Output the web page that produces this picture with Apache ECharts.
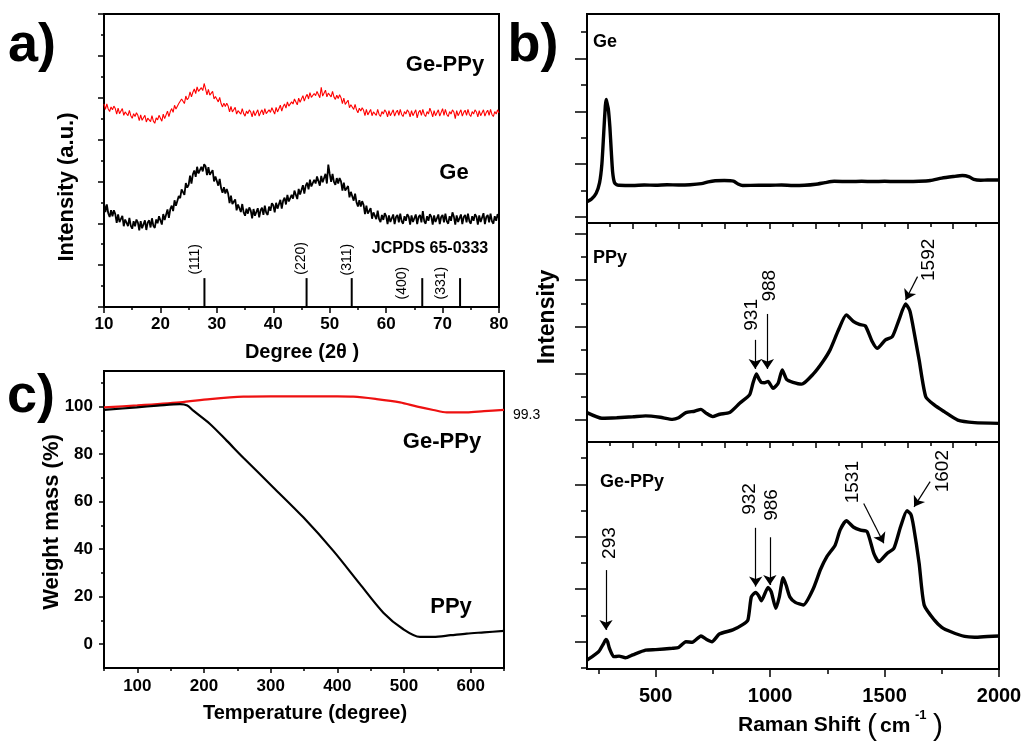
<!DOCTYPE html>
<html>
<head>
<meta charset="utf-8">
<title>Ge-PPy XRD / Raman / TGA</title>
<script src="https://cdn.jsdelivr.net/npm/echarts@6/dist/echarts.min.js"></script>
<style>
  html, body { margin: 0; padding: 0; background: #fff; }
  #chart { width: 1025px; height: 748px; }
</style>
</head>
<body>
<div id="chart"></div>
<script>
// ---- a) XRD, 10..80 deg, one reading every 0.25 deg (one row = one degree) ----
const xrdStart = 10
const xrdStep = 0.25
const xrdGePPy = [
  4.85, 4.72, 4.85, 4.73,  4.67, 4.78, 4.71, 4.80,  4.74, 4.61, 4.75, 4.62,  4.63, 4.74, 4.58, 4.66,
  4.70, 4.57, 4.70, 4.57,  4.51, 4.62, 4.55, 4.64,  4.58, 4.45, 4.59, 4.46,  4.47, 4.58, 4.42, 4.51,
  4.55, 4.43, 4.57, 4.44,  4.39, 4.52, 4.47, 4.58,  4.54, 4.44, 4.61, 4.50,  4.54, 4.68, 4.55, 4.67,
  4.74, 4.65, 4.82, 4.73,  4.71, 4.86, 4.83, 4.97,  4.95, 4.86, 5.04, 4.95,  5.00, 5.14, 5.02, 5.13,
  5.21, 5.10, 5.26, 5.15,  5.12, 5.24, 5.17, 5.34,  5.21, 5.07, 5.20, 5.06,  5.06, 5.15, 4.97, 5.03,
  5.05, 4.90, 5.01, 4.86,  4.78, 4.87, 4.79, 4.87,  4.80, 4.66, 4.79, 4.66,  4.66, 4.77, 4.61, 4.69,
  4.73, 4.61, 4.74, 4.62,  4.56, 4.68, 4.62, 4.71,  4.66, 4.54, 4.69, 4.57,  4.59, 4.71, 4.56, 4.65,
  4.71, 4.59, 4.74, 4.62,  4.58, 4.71, 4.65, 4.76,  4.72, 4.61, 4.77, 4.66,  4.69, 4.82, 4.68, 4.79,
  4.85, 4.75, 4.90, 4.80,  4.76, 4.90, 4.85, 4.97,  4.93, 4.83, 4.99, 4.89,  4.92, 5.05, 4.92, 5.02,
  5.08, 4.97, 5.12, 5.01,  4.97, 5.10, 5.05, 5.15,  5.11, 5.00, 5.25, 5.04,  5.06, 5.18, 5.02, 5.11,
  5.15, 5.02, 5.15, 5.02,  4.96, 5.06, 4.98, 5.07,  5.00, 4.86, 4.99, 4.84,  4.84, 4.94, 4.76, 4.83,
  4.86, 4.72, 4.84, 4.71,  4.64, 4.75, 4.68, 4.76,  4.70, 4.57, 4.72, 4.59,  4.60, 4.72, 4.57, 4.66,
  4.70, 4.58, 4.72, 4.60,  4.55, 4.67, 4.61, 4.71,  4.66, 4.54, 4.69, 4.57,  4.59, 4.71, 4.56, 4.65,
  4.70, 4.58, 4.72, 4.60,  4.55, 4.67, 4.61, 4.71,  4.66, 4.54, 4.69, 4.57,  4.59, 4.71, 4.52, 4.65,
  4.70, 4.58, 4.72, 4.60,  4.55, 4.67, 4.61, 4.75,  4.66, 4.54, 4.69, 4.57,  4.59, 4.71, 4.56, 4.65,
  4.74, 4.58, 4.72, 4.60,  4.55, 4.67, 4.61, 4.71,  4.66, 4.50, 4.69, 4.57,  4.59, 4.71, 4.56, 4.65,
  4.70, 4.58, 4.72, 4.60,  4.55, 4.67, 4.61, 4.71,  4.66, 4.54, 4.69, 4.57,  4.59, 4.71, 4.56, 4.65,
  4.70, 4.58, 4.72, 4.60,  4.55, 4.67, 4.61, 4.71,
  4.64
]
const xrdGe = [
  2.48, 2.27, 2.45, 2.24,  2.15, 2.31, 2.17, 2.31,  2.22, 2.01, 2.21, 2.03,  2.02, 2.18, 1.93, 2.09,
  2.12, 1.93, 2.13, 1.94,  1.87, 2.05, 1.93, 2.09,  2.02, 1.83, 2.05, 1.88,  1.89, 2.07, 1.84, 2.02,
  2.07, 1.90, 2.12, 1.94,  1.89, 2.09, 2.00, 2.17,  2.13, 1.97, 2.22, 2.08,  2.12, 2.33, 2.13, 2.34,
  2.42, 2.29, 2.55, 2.42,  2.41, 2.65, 2.60, 2.81,  2.81, 2.68, 2.96, 2.85,  2.92, 3.14, 2.95, 3.17,
  3.26, 3.11, 3.35, 3.19,  3.16, 3.35, 3.24, 3.41,  3.36, 3.15, 3.34, 3.16,  3.14, 3.27, 3.00, 3.12,
  3.13, 2.90, 3.06, 2.84,  2.73, 2.86, 2.71, 2.82,  2.71, 2.48, 2.66, 2.46,  2.43, 2.57, 2.31, 2.45,
  2.47, 2.27, 2.46, 2.26,  2.18, 2.35, 2.23, 2.38,  2.31, 2.12, 2.34, 2.18,  2.19, 2.36, 2.14, 2.31,
  2.37, 2.20, 2.42, 2.25,  2.20, 2.40, 2.30, 2.48,  2.43, 2.26, 2.49, 2.35,  2.37, 2.56, 2.35, 2.54,
  2.61, 2.45, 2.68, 2.52,  2.48, 2.68, 2.59, 2.78,  2.74, 2.58, 2.82, 2.69,  2.72, 2.91, 2.71, 2.90,
  2.97, 2.81, 3.04, 2.88,  2.84, 3.04, 2.95, 3.12,  3.08, 2.90, 3.13, 2.98,  3.00, 3.18, 2.95, 3.40,
  3.18, 2.99, 3.18, 2.99,  2.92, 3.08, 2.95, 3.08,  3.00, 2.78, 2.97, 2.78,  2.76, 2.89, 2.62, 2.75,
  2.76, 2.54, 2.71, 2.50,  2.40, 2.55, 2.40, 2.53,  2.44, 2.22, 2.42, 2.23,  2.21, 2.36, 2.11, 2.26,
  2.29, 2.10, 2.30, 2.10,  2.03, 2.20, 2.08, 2.24,  2.17, 1.98, 2.19, 2.03,  2.04, 2.21, 1.98, 2.15,
  2.20, 2.02, 2.23, 2.05,  1.99, 2.17, 2.06, 2.22,  2.16, 1.97, 2.19, 2.03,  2.04, 2.21, 1.98, 2.15,
  2.20, 2.02, 2.29, 2.05,  1.99, 2.17, 2.06, 2.22,  2.16, 1.97, 2.19, 2.03,  2.04, 2.21, 1.98, 2.15,
  2.20, 2.02, 2.23, 2.05,  1.99, 2.17, 2.06, 2.26,  2.16, 1.97, 2.19, 2.03,  2.04, 2.21, 1.98, 2.15,
  2.20, 2.02, 2.23, 2.05,  1.99, 2.17, 2.06, 2.22,  2.16, 1.97, 2.19, 2.03,  2.04, 2.24, 1.98, 2.15,
  2.20, 2.02, 2.23, 2.05,  1.99, 2.17, 2.06, 2.22,
  2.12
]
const jcpdsPos = [27.8, 45.9, 53.9, 66.4, 73.1]
const jcpdsHeight = [0.69, 0.69, 0.69, 0.69, 0.69]
const jcpdsHkl = ['(111)', '(220)', '(311)', '(400)', '(331)']

// ---- b) Raman ----
const ramanGeShift = [200, 220, 240, 255, 265, 273, 280, 284, 288, 293, 300, 306, 312, 320, 330, 340, 400, 450, 500, 550, 600, 650, 700, 730, 760, 800, 840, 860, 880, 950, 1000, 1050, 1100, 1150, 1200, 1240, 1280, 1350, 1400, 1450, 1500, 1550, 1600, 1650, 1700, 1750, 1800, 1840, 1870, 1890, 1920, 1950, 2000]
const ramanGeInt = [0.58, 0.68, 0.90, 1.30, 2.00, 3.17, 4.20, 4.45, 4.30, 4.10, 3.40, 2.50, 1.70, 1.30, 1.22, 1.20, 1.19, 1.21, 1.20, 1.22, 1.21, 1.22, 1.26, 1.33, 1.37, 1.38, 1.36, 1.25, 1.19, 1.20, 1.20, 1.21, 1.19, 1.20, 1.24, 1.30, 1.35, 1.34, 1.35, 1.34, 1.35, 1.34, 1.34, 1.35, 1.38, 1.47, 1.53, 1.57, 1.52, 1.42, 1.39, 1.40, 1.40]

const ramanPPyShift = [200, 265, 330, 400, 456, 520, 573, 600, 632, 670, 698, 720, 749, 780, 823, 867, 910, 925, 940, 952, 962, 975, 991, 1013, 1035, 1053, 1072, 1100, 1138, 1189, 1230, 1262, 1299, 1333, 1365, 1390, 1416, 1446, 1468, 1504, 1534, 1563, 1592, 1610, 1622, 1651, 1680, 1717, 1761, 1820, 1893, 2000]
const ramanPPyInt = [0.32, 0.08, 0.10, 0.14, 0.18, 0.12, 0.03, 0.10, 0.32, 0.38, 0.46, 0.30, 0.15, 0.25, 0.32, 0.72, 1.08, 1.58, 1.98, 1.75, 1.61, 1.60, 1.66, 1.36, 1.58, 2.15, 1.75, 1.62, 1.54, 1.98, 2.50, 3.01, 3.87, 4.51, 4.22, 4.10, 4.04, 3.37, 3.08, 3.44, 3.58, 4.30, 4.98, 4.70, 4.15, 2.58, 1.00, 0.65, 0.36, 0.00, -0.11, -0.14]

const ramanGePPyShift = [200, 230, 251, 273, 283, 290, 298, 317, 340, 368, 400, 456, 500, 573, 600, 632, 660, 698, 720, 746, 778, 837, 880, 903, 918, 937, 950, 962, 991, 1005, 1025, 1040, 1057, 1070, 1086, 1110, 1145, 1189, 1220, 1248, 1284, 1306, 1333, 1365, 1395, 1424, 1453, 1475, 1512, 1541, 1570, 1598, 1615, 1627, 1651, 1673, 1717, 1750, 1790, 1850, 1893, 1950, 2000]
const ramanGePPyInt = [-0.70, -0.52, -0.38, -0.06, 0.09, 0.00, -0.25, -0.57, -0.55, -0.61, -0.50, -0.32, -0.30, -0.25, -0.22, 0.00, -0.02, 0.22, 0.10, 0.00, 0.29, 0.45, 0.65, 0.83, 1.71, 1.88, 1.75, 1.56, 2.07, 1.90, 1.27, 1.70, 2.44, 2.15, 1.71, 1.50, 1.40, 2.03, 2.75, 3.24, 3.68, 4.26, 4.61, 4.36, 4.25, 4.19, 3.37, 3.05, 3.37, 3.56, 4.38, 4.99, 4.85, 4.38, 2.99, 1.40, 0.83, 0.55, 0.38, 0.20, 0.17, 0.20, 0.22]

// ---- c) TGA ----
const tgaGePPyTemp = [50, 100, 164, 209, 259, 300, 350, 400, 424, 459, 494, 520, 544, 564, 594, 620, 650]
const tgaGePPyWeight = [99.7, 100.5, 101.8, 103.2, 104.2, 104.3, 104.3, 104.3, 104.2, 103.2, 101.8, 100.0, 98.6, 97.6, 97.6, 98.1, 98.6]
const tgaPPyTemp = [50, 99, 130, 164, 175, 184, 209, 234, 259, 304, 349, 394, 434, 469, 499, 524, 544, 570, 594, 620, 650]
const tgaPPyWeight = [98.6, 99.7, 100.4, 101.1, 100.5, 98.3, 92.7, 85.7, 78.5, 66.0, 53.4, 39.3, 25.3, 13.3, 6.3, 3.1, 3.1, 3.8, 4.5, 5.0, 5.6]

// tick labels
const tempTicks = [100, 200, 300, 400, 500, 600]
const tempMinorTicks = [50, 150, 250, 350, 450, 550, 650]
const weightTicks = [0, 20, 40, 60, 80, 100]
const weightMinorTicks = [10, 30, 50, 70, 90, 110]
const ramanTicks = [500, 1000, 1500, 2000]
const ramanMinorTicks = [250, 750, 1250, 1750]

const FONT = '"Liberation Sans", Arial, sans-serif'
const zip = (xs, ys) => xs.map((x, i) => [x, ys[i]])
const xrdDeg = xrdGe.map((_, i) => xrdStart + i * xrdStep)

const chart = echarts.init(document.getElementById('chart'))

const AL = { show: true, onZero: false, lineStyle: { color: '#000', width: 2 } }
const TL = { color: '#000', width: 1.5 }
const NOSPLIT = { show: false }
const plain = v => String(v)

function tickAxis(gridIndex, pos, min, max, ticks, len, labels) {
  return {
    type: 'value', gridIndex, position: pos, min, max,
    axisLine: AL,
    axisTick: { show: true, customValues: ticks, length: len, lineStyle: TL },
    axisLabel: labels
      ? Object.assign({ customValues: ticks, formatter: plain, color: '#000', fontFamily: FONT, fontWeight: 'bold' }, labels)
      : { show: false },
    splitLine: NOSPLIT
  }
}
// second axis on the same side, only to draw the shorter minor ticks
function minorAxis(gridIndex, pos, min, max, ticks, len) {
  return {
    type: 'value', gridIndex, position: pos, min, max,
    axisLine: { show: false, onZero: false },
    axisTick: { show: true, customValues: ticks, length: len, lineStyle: TL },
    axisLabel: { show: false },
    splitLine: NOSPLIT
  }
}
function ramanTopAxis(gridIndex) {
  return {
    type: 'value', gridIndex, position: 'bottom', min: 200, max: 2000, interval: 200,
    axisLine: AL,
    axisTick: { length: 6, lineStyle: TL },
    minorTick: { show: true, splitNumber: 2, length: 4, lineStyle: TL },
    axisLabel: { show: false },
    splitLine: NOSPLIT, minorSplitLine: NOSPLIT
  }
}

function vLabel(name, x, y) {
  return { name, coord: [x, y] }
}
function arrow(x1, y1, x2, y2) {
  return [{ coord: [x1, y1] }, { coord: [x2, y2] }]
}
function markTexts(items, size) {
  return {
    symbol: 'circle', symbolSize: 0, silent: true,
    itemStyle: { color: 'transparent' },
    label: {
      show: true, position: 'inside', rotate: 90, color: '#000',
      fontFamily: FONT, fontSize: size, formatter: p => p.name
    },
    data: items
  }
}
function markArrows(items) {
  return {
    silent: true, symbol: ['none', 'arrow'], symbolSize: 10,
    lineStyle: { color: '#000', width: 1.2, type: 'solid' },
    itemStyle: { color: '#000' },
    label: { show: false },
    data: items
  }
}

function txt(x, y, text, size, weight, align, rot) {
  return {
    type: 'text', x, y, rotation: rot || 0, silent: true,
    style: {
      text, fill: '#000',
      font: `${weight} ${size}px ${FONT}`,
      textAlign: align || 'center', align: align || 'center',
      textVerticalAlign: 'middle', verticalAlign: 'middle'
    }
  }
}

const gridBase = { show: true, borderColor: '#000', borderWidth: 2, backgroundColor: 'transparent' }

chart.setOption({
  animation: false,
  backgroundColor: '#fff',
  textStyle: { fontFamily: FONT },
  grid: [
    Object.assign({ left: 104, top: 14, width: 395, height: 293 }, gridBase),
    Object.assign({ left: 104, top: 371, width: 400, height: 297 }, gridBase),
    Object.assign({ left: 587, top: 14, width: 412, height: 209 }, gridBase),
    Object.assign({ left: 587, top: 223, width: 412, height: 219 }, gridBase),
    Object.assign({ left: 587, top: 442, width: 412, height: 227 }, gridBase)
  ],
  xAxis: [
    {
      type: 'value', gridIndex: 0, position: 'bottom', min: 10, max: 80, interval: 10,
      axisLine: AL,
      axisTick: { length: 6, lineStyle: TL },
      minorTick: { show: true, splitNumber: 2, length: 3, lineStyle: TL },
      axisLabel: { color: '#000', fontFamily: FONT, fontWeight: 'bold', fontSize: 17, margin: 9 },
      splitLine: NOSPLIT, minorSplitLine: NOSPLIT
    },
    tickAxis(1, 'bottom', 50, 650, tempTicks, 5, { fontSize: 17, margin: 10 }),
    minorAxis(1, 'bottom', 50, 650, tempMinorTicks, 3),
    ramanTopAxis(2),
    ramanTopAxis(3),
    tickAxis(4, 'bottom', 200, 2000, ramanTicks, 8, { fontSize: 20, margin: 17 }),
    minorAxis(4, 'bottom', 200, 2000, ramanMinorTicks, 5)
  ],
  yAxis: [
    {
      type: 'value', gridIndex: 0, position: 'left', min: 0, max: 7, interval: 1,
      axisLine: AL,
      axisTick: { length: 6, lineStyle: TL },
      minorTick: { show: true, splitNumber: 2, length: 3, lineStyle: TL },
      axisLabel: { show: false },
      splitLine: NOSPLIT, minorSplitLine: NOSPLIT
    },
    tickAxis(1, 'left', -10, 115, weightTicks, 5, { fontSize: 17, margin: 11 }),
    minorAxis(1, 'left', -10, 115, weightMinorTicks, 3),
    tickAxis(2, 'left', -0.23, 7.69, [0, 2, 4, 6], 12),
    minorAxis(2, 'left', -0.23, 7.69, [1, 3, 5, 7], 6),
    tickAxis(3, 'left', -0.94, 8.45, [0, 2, 4, 6, 8], 12),
    minorAxis(3, 'left', -0.94, 8.45, [1, 3, 5, 7], 6),
    tickAxis(4, 'left', -1.04, 7.61, [0, 2, 4, 6], 12),
    minorAxis(4, 'left', -1.04, 7.61, [-1, 1, 3, 5, 7], 6)
  ],
  series: [
    // a) XRD
    {
      name: 'Ge-PPy XRD', type: 'line', xAxisIndex: 0, yAxisIndex: 0,
      data: zip(xrdDeg, xrdGePPy), showSymbol: false,
      lineStyle: { color: '#ff0000', width: 1.1 }
    },
    {
      name: 'Ge XRD', type: 'line', xAxisIndex: 0, yAxisIndex: 0,
      data: zip(xrdDeg, xrdGe), showSymbol: false,
      lineStyle: { color: '#000', width: 1.8 }
    },
    {
      name: 'JCPDS 65-0333', type: 'bar', xAxisIndex: 0, yAxisIndex: 0,
      data: zip(jcpdsPos, jcpdsHeight), barWidth: 2,
      itemStyle: { color: '#000' },
      markPoint: markTexts([
        vLabel(jcpdsHkl[0], 26.1, 1.14),
        vLabel(jcpdsHkl[1], 45.0, 1.16),
        vLabel(jcpdsHkl[2], 53.0, 1.13),
        vLabel(jcpdsHkl[3], 62.9, 0.57),
        vLabel(jcpdsHkl[4], 69.8, 0.57)
      ], 14)
    },
    // c) TGA
    {
      name: 'Ge-PPy TGA', type: 'line', xAxisIndex: 1, yAxisIndex: 1,
      data: zip(tgaGePPyTemp, tgaGePPyWeight), showSymbol: false, smooth: 0.3,
      lineStyle: { color: '#ee1111', width: 2.2 }
    },
    {
      name: 'PPy TGA', type: 'line', xAxisIndex: 1, yAxisIndex: 1,
      data: zip(tgaPPyTemp, tgaPPyWeight), showSymbol: false, smooth: 0.3,
      lineStyle: { color: '#000', width: 2.2 }
    },
    // b) Raman
    {
      name: 'Ge Raman', type: 'line', xAxisIndex: 3, yAxisIndex: 3,
      data: zip(ramanGeShift, ramanGeInt), showSymbol: false, smooth: 0.2,
      lineStyle: { color: '#000', width: 3.4 }
    },
    {
      name: 'PPy Raman', type: 'line', xAxisIndex: 4, yAxisIndex: 5,
      data: zip(ramanPPyShift, ramanPPyInt), showSymbol: false, smooth: 0.2,
      lineStyle: { color: '#000', width: 3.4 },
      markPoint: markTexts([
        vLabel('931', 919, 4.51),
        vLabel('988', 998, 5.76),
        vLabel('1592', 1694, 6.87)
      ], 19),
      markLine: markArrows([
        arrow(935, 3.44, 935, 2.19),
        arrow(988, 4.55, 988, 2.19),
        arrow(1644, 6.15, 1592, 5.15)
      ])
    },
    {
      name: 'Ge-PPy Raman', type: 'line', xAxisIndex: 5, yAxisIndex: 7,
      data: zip(ramanGePPyShift, ramanGePPyInt), showSymbol: false, smooth: 0.2,
      lineStyle: { color: '#000', width: 3.4 },
      markPoint: markTexts([
        vLabel('293', 298, 3.76),
        vLabel('932', 910, 5.44),
        vLabel('986', 1006, 5.21),
        vLabel('1531', 1362, 6.08),
        vLabel('1602', 1754, 6.5)
      ], 19),
      markLine: markArrows([
        arrow(283, 2.73, 283, 0.45),
        arrow(937, 4.34, 937, 2.1),
        arrow(999, 3.98, 999, 2.16),
        arrow(1409, 5.27, 1497, 3.75),
        arrow(1699, 6.1, 1629, 5.14)
      ])
    }
  ],
  graphic: [
    txt(32, 46, 'a)', 54, 'bold'),
    txt(533, 46, 'b)', 54, 'bold'),
    txt(31, 397, 'c)', 54, 'bold'),
    // a)
    txt(67, 187, 'Intensity (a.u.)', 22, 'bold', 'center', Math.PI / 2),
    txt(302, 352, 'Degree (2θ )', 20, 'bold'),
    txt(445, 65, 'Ge-PPy', 22, 'bold'),
    txt(454, 173, 'Ge', 22, 'bold'),
    txt(430, 249, 'JCPDS 65-0333', 16, 'bold'),
    // c)
    txt(52, 522, 'Weight mass (%)', 22, 'bold', 'center', Math.PI / 2),
    txt(305, 713, 'Temperature (degree)', 20, 'bold'),
    txt(442, 442, 'Ge-PPy', 22, 'bold'),
    txt(451, 607, 'PPy', 22, 'bold'),
    txt(513, 415, '99.3', 14, 'normal', 'left'),
    // b)
    txt(548, 317, 'Intensity', 23, 'bold', 'center', Math.PI / 2),
    txt(593, 42, 'Ge', 18, 'bold', 'left'),
    txt(593, 258, 'PPy', 18, 'bold', 'left'),
    txt(600, 482, 'Ge-PPy', 18, 'bold', 'left'),
    txt(738, 725, 'Raman Shift', 21, 'bold', 'left'),
    txt(872, 727, '(', 30, 'normal'),
    txt(880, 726, 'cm', 21, 'bold', 'left'),
    txt(915, 715, '-1', 13, 'bold', 'left'),
    txt(938, 727, ')', 30, 'normal')
  ]
})
</script>
</body>
</html>
